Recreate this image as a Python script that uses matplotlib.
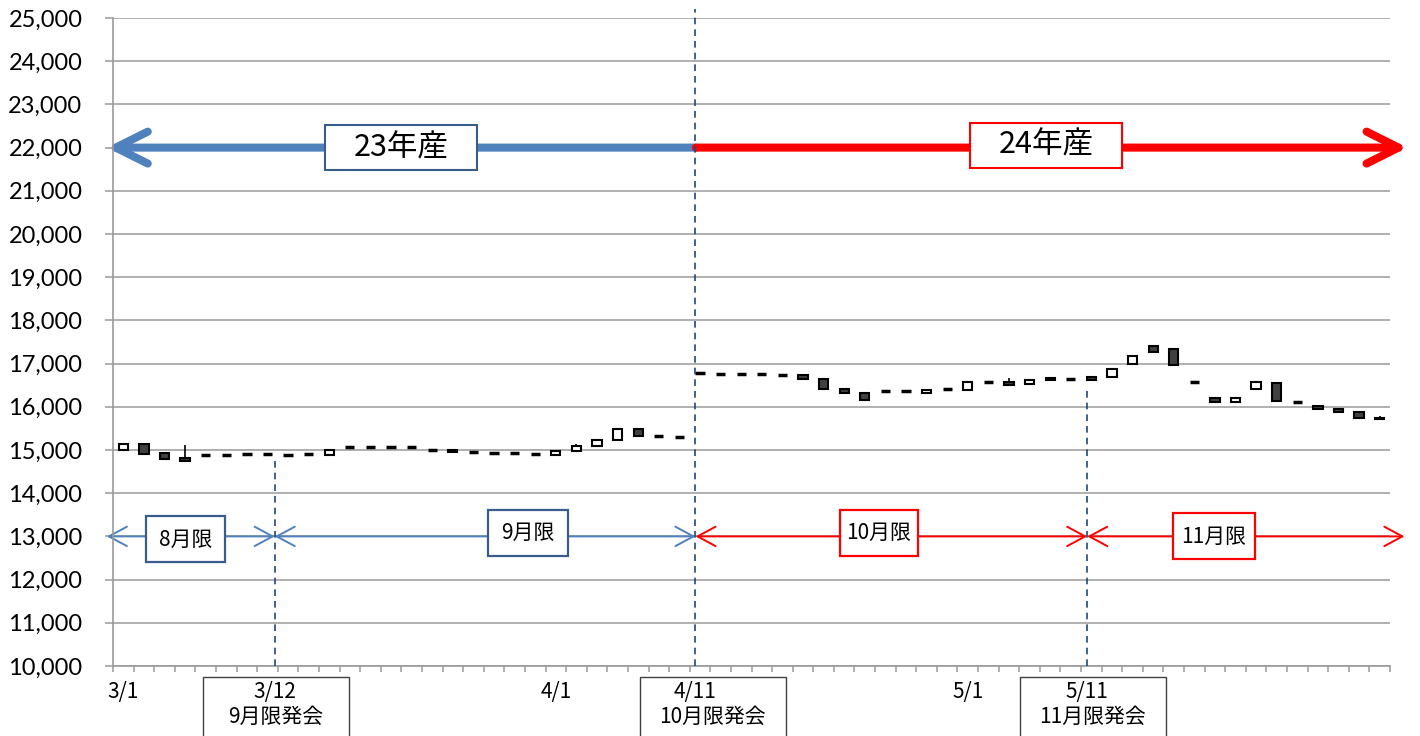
import numpy as np
import matplotlib.pyplot as plt
from matplotlib.patches import Rectangle
from matplotlib.ticker import FuncFormatter, FixedLocator
import matplotlib.transforms as mtransforms

plt.rcParams['font.family'] = ['Lato', 'Noto Sans CJK JP', 'DejaVu Sans']

# business days 2012/3/1 - 5/31
dates = ['3/1', '3/2', '3/5', '3/6', '3/7', '3/8', '3/9', '3/12', '3/13', '3/14',
         '3/15', '3/16', '3/19', '3/21', '3/22', '3/23', '3/26', '3/27', '3/28', '3/29',
         '3/30', '4/2', '4/3', '4/4', '4/5', '4/6', '4/9', '4/10', '4/11', '4/12',
         '4/13', '4/16', '4/17', '4/18', '4/19', '4/20', '4/23', '4/24', '4/25', '4/26',
         '4/27', '5/1', '5/2', '5/7', '5/8', '5/9', '5/10', '5/11', '5/14', '5/15',
         '5/16', '5/17', '5/18', '5/21', '5/22', '5/23', '5/24', '5/25', '5/28', '5/29',
         '5/30', '5/31']

opens = [15010, 15150, 14920, 14820, 14880, 14880, 14900, 14900, 14890, 14900,
         14890, 15080, 15070, 15060, 15060, 15000, 15010, 14950, 14940, 14920,
         14910, 14890, 14970, 15100, 15230, 15480, 15320, 15290, 16780, 16760,
         16760, 16760, 16740, 16730, 16640, 16410, 16330, 16370, 16370, 16330,
         16410, 16390, 16570, 16570, 16520, 16670, 16640, 16690, 16700, 16990,
         17400, 17330, 16580, 16200, 16100, 16420, 16560, 16120, 16010, 15950,
         15880, 15750]
highs = [15150, 15150, 14920, 15110, 14880, 14880, 14900, 14900, 14890, 14900,
         14990, 15080, 15070, 15060, 15060, 15000, 15010, 14950, 14940, 14920,
         14910, 14970, 15150, 15230, 15480, 15480, 15320, 15290, 16780, 16760,
         16760, 16760, 16740, 16730, 16640, 16410, 16330, 16370, 16370, 16400,
         16410, 16580, 16570, 16660, 16620, 16670, 16640, 16690, 16870, 17170,
         17400, 17330, 16580, 16200, 16200, 16580, 16560, 16120, 16010, 15950,
         15880, 15790]
lows = [15010, 14910, 14800, 14740, 14880, 14880, 14900, 14900, 14890, 14900,
        14890, 15080, 15070, 15060, 15060, 15000, 14950, 14950, 14940, 14920,
        14910, 14890, 14970, 15100, 15230, 15320, 15320, 15290, 16780, 16760,
        16760, 16760, 16740, 16640, 16410, 16330, 16150, 16370, 16370, 16330,
        16410, 16390, 16570, 16510, 16520, 16610, 16640, 16610, 16700, 16990,
        17280, 16970, 16580, 16100, 16100, 16420, 16140, 16120, 15950, 15870,
        15740, 15720]
closes = [15150, 14910, 14800, 14740, 14880, 14880, 14900, 14900, 14890, 14900,
          14990, 15080, 15070, 15060, 15060, 15000, 14950, 14950, 14940, 14920,
          14910, 14970, 15100, 15230, 15480, 15320, 15320, 15290, 16780, 16760,
          16760, 16760, 16740, 16640, 16410, 16330, 16150, 16370, 16370, 16400,
          16410, 16580, 16570, 16510, 16620, 16610, 16640, 16610, 16870, 17170,
          17280, 16970, 16580, 16100, 16200, 16580, 16140, 16120, 15950, 15870,
          15740, 15720]

month_labels = ['3/1', '4/1', '5/1']
month_label_days = ['3/1', '4/2', '5/1']
launch_dates = ['3/12', '4/11', '5/11']
launch_names = ['9月限発会', '10月限発会', '11月限発会']
contracts = ['8月限', '9月限', '10月限', '11月限']
crops = ['23年産', '24年産']

BLUE = '#4F81BD'
DBLUE = '#385D8A'
RED = '#FF0000'
NAVY = '#1F497D'
GRID = '#9A9A9A'

# layout (x in category units, y in price)
launch_x = [7.35, 27.78, 46.8]
launch_line_top = [14850, None, 16450]
launch_box_cx = [7.41, 28.62, 47.07]
contract_span = [(-0.8, 7.35), (7.35, 27.78), (27.78, 46.8), (46.8, 62.2)]
contract_box = [(3.02, 12930, 3.83), (19.65, 13080, 3.88), (36.68, 13080, 3.79), (52.94, 13000, 3.98)]
contract_col = [BLUE, BLUE, RED, RED]
contract_edge = [DBLUE, DBLUE, RED, RED]
crop_span = [(27.8, -0.8), (27.8, 62.35)]
crop_box = [(13.48, 22000), (44.8, 22060)]
crop_col = [BLUE, RED]
crop_edge = [DBLUE, RED]

fig = plt.figure(figsize=(14.2, 7.36), dpi=100)
ax = fig.add_axes([113 / 1420, 1 - 666 / 736, 1277 / 1420, 648 / 736])

x = np.arange(len(dates))
o = np.array(opens); h = np.array(highs); l = np.array(lows); c = np.array(closes)

ax.set_xlim(-0.5, len(dates) - 0.5)
ax.set_ylim(10000, 25000)
ax.yaxis.set_major_locator(FixedLocator(np.arange(10000, 25001, 1000)))
ax.yaxis.set_major_formatter(FuncFormatter(lambda v, p: f'{int(v):,}'))
ax.grid(axis='y', color=GRID, lw=1.1, zorder=0)
ax.set_axisbelow(True)
for s in ['top', 'right']:
    ax.spines[s].set_visible(False)
for s in ['left', 'bottom']:
    ax.spines[s].set_color(GRID)
    ax.spines[s].set_linewidth(1.2)
ax.tick_params(axis='y', length=6, color=GRID, width=1.1, pad=16, labelsize=17)
ax.set_xticks(np.arange(-0.5, len(dates), 1.0))
ax.set_xticklabels([])
ax.tick_params(axis='x', length=4, color=GRID, width=1.1)

# candles
ax.vlines(x, l, h, color='black', lw=1.2, zorder=3)
up = c > o
dn = c < o
fl = c == o
w = 0.45
ax.bar(x[up], (c - o)[up], bottom=o[up], width=w, color='white', edgecolor='black', lw=1.5, zorder=4)
ax.bar(x[dn], (c - o)[dn], bottom=o[dn], width=w, color='#404040', edgecolor='black', lw=1.5, zorder=4)
ax.hlines(o[fl], x[fl] - w / 2, x[fl] + w / 2, color='black', lw=2.5, zorder=4)


def arrow(x0, x1, y, color, lw, style, z):
    ax.annotate('', xy=(x1, y), xytext=(x0, y), annotation_clip=False,
                arrowprops=dict(arrowstyle=style, color=color, lw=lw, shrinkA=0, shrinkB=0,
                                mutation_scale=1, capstyle='round', joinstyle='round',
                                clip_on=False), zorder=z)


# crop year arrows
for (x0, x1), col, (bx, by), ec, name in zip(crop_span, crop_col, crop_box, crop_edge, crops):
    arrow(x0, x1, 22000, col, 5.8, '->,head_length=23,head_width=11.5', 2)
    ax.add_patch(Rectangle((bx - 3.69, by - 521), 7.38, 1042, facecolor='white', edgecolor=ec,
                           lw=1.5, zorder=6))
    ax.text(bx, by, name, ha='center', va='center', fontsize=22, zorder=7,
            family=['Noto Sans CJK JP'])

# contract arrows
for (x0, x1), col, (bx, by, bw), ec, name in zip(contract_span, contract_col, contract_box,
                                                 contract_edge, contracts):
    arrow(x0, x1, 13000, col, 1.4, '<->,head_length=13,head_width=7', 2)
    ax.add_patch(Rectangle((bx - bw / 2, by - 532), bw, 1064, facecolor='white', edgecolor=ec,
                           lw=1.6, zorder=6))
    ax.text(bx, by, name, ha='center', va='center', fontsize=15, zorder=7,
            family=['Noto Sans CJK JP'])

# launch lines
for lx, top in zip(launch_x, launch_line_top):
    if top is None:
        ax.plot([lx, lx], [10000, 25200], color=NAVY, lw=1.2, ls=(0, (4, 3)), zorder=5, clip_on=False)
    else:
        ax.plot([lx, lx], [10000, top], color=NAVY, lw=1.2, ls=(0, (4, 3)), zorder=5)

# date labels below axis
trans = mtransforms.blended_transform_factory(ax.transData, ax.transAxes)
for lab, d in zip(month_labels, month_label_days):
    ax.text(dates.index(d), -0.040, lab, transform=trans, ha='center', va='center',
            fontsize=15, family=['Noto Sans CJK JP'])
for d, name, lx, bc in zip(launch_dates, launch_names, launch_x, launch_box_cx):
    ax.add_patch(Rectangle((bc - 3.55, -0.2), 7.1, 0.183, transform=trans, facecolor='none',
                           edgecolor='#404040', lw=1.0, clip_on=False))
    ax.text(lx, -0.040, d, transform=trans, ha='center', va='center', fontsize=15,
            family=['Noto Sans CJK JP'])
    ax.text(bc, -0.079, name, transform=trans, ha='center', va='center', fontsize=15,
            family=['Noto Sans CJK JP'])

fig.savefig('out.png', dpi=100)
